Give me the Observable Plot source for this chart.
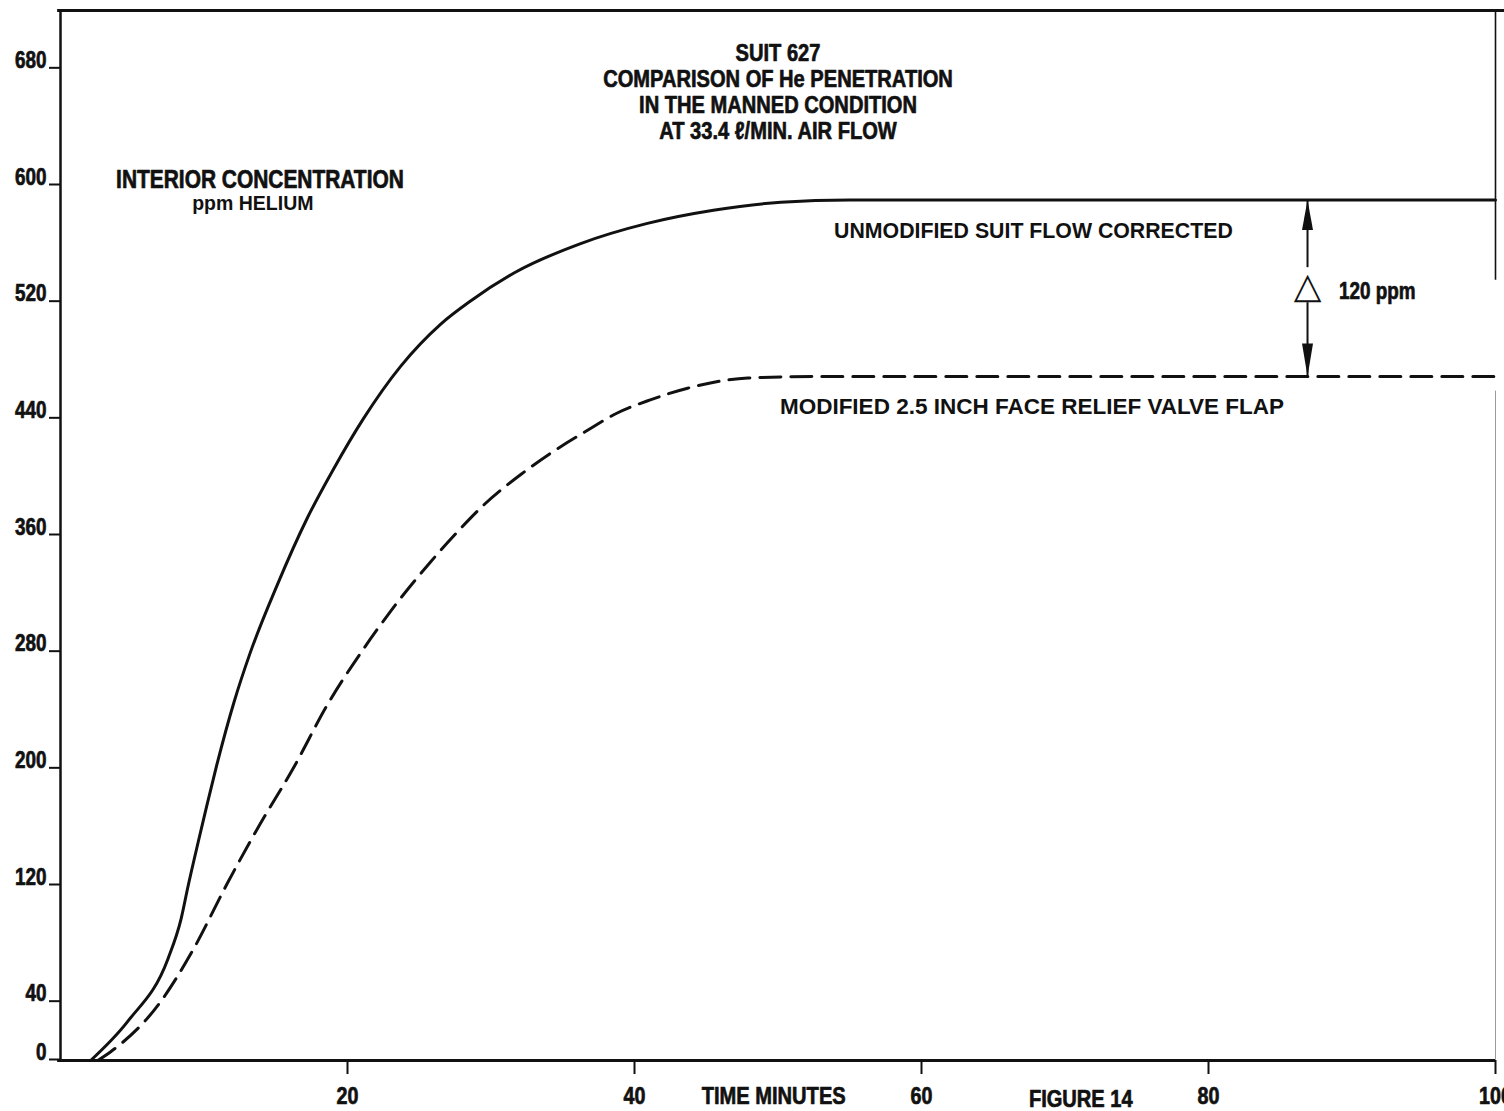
<!DOCTYPE html>
<html>
<head>
<meta charset="utf-8">
<script src="https://cdn.jsdelivr.net/npm/d3@7"></script>
<script src="https://cdn.jsdelivr.net/npm/@observablehq/plot@0.6"></script>
<style>
  html, body { margin: 0; padding: 0; background: #fff; }
  #chart svg { display: block; }
</style>
</head>
<body>
<div id="chart"></div>
<script>
// ---- data ----
const unmodifiedTime = [2.1, 4.7, 7.5, 8.4, 8.9, 9.6, 10.2, 10.9, 12.1, 13.2, 15.1, 17.2, 19.05, 21.1, 23.7, 26.5, 28.6, 31.6, 36.2, 40.9, 45.5, 50.2, 55.0, 60, 70, 80, 90, 100];
const unmodifiedPpm  = [0, 27, 70, 97, 120, 150, 175, 203, 246, 279, 326, 372, 406, 440, 476, 505, 521, 540, 560, 574, 583, 588.5, 590, 590, 590, 590, 590, 590];
const modifiedTime = [2.6, 3.5, 6.8, 9.3, 11.6, 13.9, 16.2, 18.6, 21.1, 23.0, 25.8, 27.9, 29.5, 32.1, 34.4, 36.7, 38.8, 41.1, 43.7, 47.9, 52.5, 60, 70, 80, 90, 100];
const modifiedPpm  = [0, 6, 38, 77, 121, 162, 200, 244, 282, 308, 342, 365, 381, 402, 418, 432, 444, 453, 461, 468, 469, 469, 469, 469, 469, 469];
const xTicks = [20, 40, 60, 80, 100];
const yTicks = [0, 40, 120, 200, 280, 360, 440, 520, 600, 680];
const titleLines = ["SUIT 627", "COMPARISON OF He PENETRATION", "IN THE MANNED CONDITION", "AT 33.4 \u2113/MIN. AIR FLOW"];
const yLabelLines = ["INTERIOR CONCENTRATION", "ppm HELIUM"];
const seriesLabels = ["UNMODIFIED SUIT FLOW CORRECTED", "MODIFIED 2.5 INCH FACE RELIEF VALVE FLAP"];
const deltaSymbol = "\u25B3";
const deltaLabel = "120 ppm";
const xLabel = "TIME MINUTES";
const figureLabel = "FIGURE 14";

// ---- build ----
const unmod = unmodifiedTime.map((t, i) => ({t, v: unmodifiedPpm[i]}));
const mod = modifiedTime.map((t, i) => ({t, v: modifiedPpm[i]}));
const unmodPlateau = unmodifiedPpm[unmodifiedPpm.length - 1];
const modPlateau = modifiedPpm[modifiedPpm.length - 1];

const ink = "#111";
const narrow = "'Liberation Sans Narrow', 'Liberation Sans', Arial, sans-serif";
const wide = "'Liberation Sans', Arial, sans-serif";

const deltaX = 86.9;
const headUp = {draw(ctx) { ctx.moveTo(0, 0); ctx.lineTo(5.5, 30); ctx.lineTo(-5.5, 30); ctx.closePath(); }};
const headDown = {draw(ctx) { ctx.moveTo(0, 0); ctx.lineTo(5.5, -33); ctx.lineTo(-5.5, -33); ctx.closePath(); }};
const shafts = [{from: 544, to: unmodPlateau}, {from: 520, to: modPlateau}];

const chart = Plot.plot({
  width: 1504,
  height: 1111,
  marginLeft: 60,
  marginRight: 9,
  marginTop: 10,
  marginBottom: 51,
  x: {domain: [0, 100]},
  y: {domain: [0, 720]},
  style: {background: "#fff", color: ink},
  marks: [
    // frame
    Plot.ruleY([720], {x1: -0.2, x2: 101, stroke: ink, strokeWidth: 3}),
    Plot.ruleX([0], {y1: 0, y2: 720, stroke: ink, strokeWidth: 2.5}),
    Plot.ruleX([100], {y1: 535, y2: 720, stroke: ink, strokeWidth: 1.6}),
    Plot.ruleX([100], {y1: 0, y2: 459, stroke: "#9a9a9a", strokeWidth: 1}),
    Plot.ruleY([0], {x1: -0.2, x2: 100, stroke: ink, strokeWidth: 3}),
    // axes
    Plot.axisX(xTicks, {tickSize: 14, tickPadding: 12, fontSize: 24, fontFamily: narrow, fontWeight: "bold", label: null, strokeWidth: 2, tickFormat: d => String(d)}),
    Plot.axisY(yTicks, {tickSize: 11, tickPadding: 3, fontSize: 23, fontFamily: narrow, fontWeight: "bold", lineAnchor: "bottom", dy: -1, label: null, strokeWidth: 2, tickFormat: d => String(d)}),
    // curves
    Plot.line(unmod, {x: "t", y: "v", curve: "monotone-x", stroke: ink, strokeWidth: 3}),
    Plot.line(mod, {x: "t", y: "v", curve: "monotone-x", stroke: ink, strokeWidth: 3, strokeDasharray: "21,10"}),
    // delta arrows
    Plot.link(shafts, {x1: deltaX, x2: deltaX, y1: "from", y2: "to", stroke: ink, strokeWidth: 2}),
    Plot.dot([unmodPlateau], {x: deltaX, y: d => d, symbol: headUp, r: 5, fill: ink, stroke: "none"}),
    Plot.dot([modPlateau], {x: deltaX, y: d => d, symbol: headDown, r: 5, fill: ink, stroke: "none"}),
    Plot.text([deltaSymbol], {x: deltaX, y: 531, text: d => d, fontSize: 36, fontFamily: "'DejaVu Sans', sans-serif", fontWeight: "bold", lineAnchor: "middle", fill: ink}),
    Plot.text([deltaLabel], {x: 89.1, y: 522.3, text: d => d, textAnchor: "start", lineAnchor: "bottom", fontSize: 23, fontFamily: narrow, fontWeight: "bold", fill: ink}),
    // title
    Plot.text(titleLines, {x: 50, y: (d, i) => 685.5 - i * 17.9, text: d => d, lineAnchor: "bottom", fontSize: 24.5, fontFamily: narrow, fontWeight: "bold", fill: ink}),
    // y label
    Plot.text([yLabelLines[0]], {x: 13.9, y: 598.5, text: d => d, lineAnchor: "bottom", fontSize: 25.5, fontFamily: narrow, fontWeight: "bold", fill: ink}),
    Plot.text([yLabelLines[1]], {x: 13.4, y: 583.4, text: d => d, lineAnchor: "bottom", fontSize: 19.5, fontFamily: wide, fontWeight: "bold", fill: ink}),
    // series labels
    Plot.text([seriesLabels[0]], {x: 67.8, y: 564.2, text: d => d, lineAnchor: "bottom", fontSize: 21.3, fontFamily: wide, fontWeight: "bold", fill: ink}),
    Plot.text([seriesLabels[1]], {x: 67.7, y: 443.4, text: d => d, lineAnchor: "bottom", fontSize: 22.5, fontFamily: wide, fontWeight: "bold", fill: ink}),
    // x label and figure number
    Plot.text([xLabel], {x: 49.7, y: -29.5, text: d => d, lineAnchor: "bottom", fontSize: 24.5, fontFamily: narrow, fontWeight: "bold", fill: ink}),
    Plot.text([figureLabel], {x: 71.1, y: -31.6, text: d => d, lineAnchor: "bottom", fontSize: 24.5, fontFamily: narrow, fontWeight: "bold", fill: ink})
  ]
});
document.getElementById("chart").appendChild(chart);

// condensed lettering: compress the "narrow" texts horizontally and thicken strokes a little
const squeeze = 0.82;
chart.querySelectorAll('g[font-family*="Narrow"] text, text[font-family*="Narrow"]').forEach(el => {
  const L = el.getComputedTextLength();
  if (L > 0) {
    el.setAttribute("textLength", (L * squeeze).toFixed(2));
    el.setAttribute("lengthAdjust", "spacingAndGlyphs");
    el.setAttribute("stroke", ink);
    el.setAttribute("stroke-width", "0.7");
    el.setAttribute("stroke-linejoin", "round");
  }
});
</script>
</body>
</html>
